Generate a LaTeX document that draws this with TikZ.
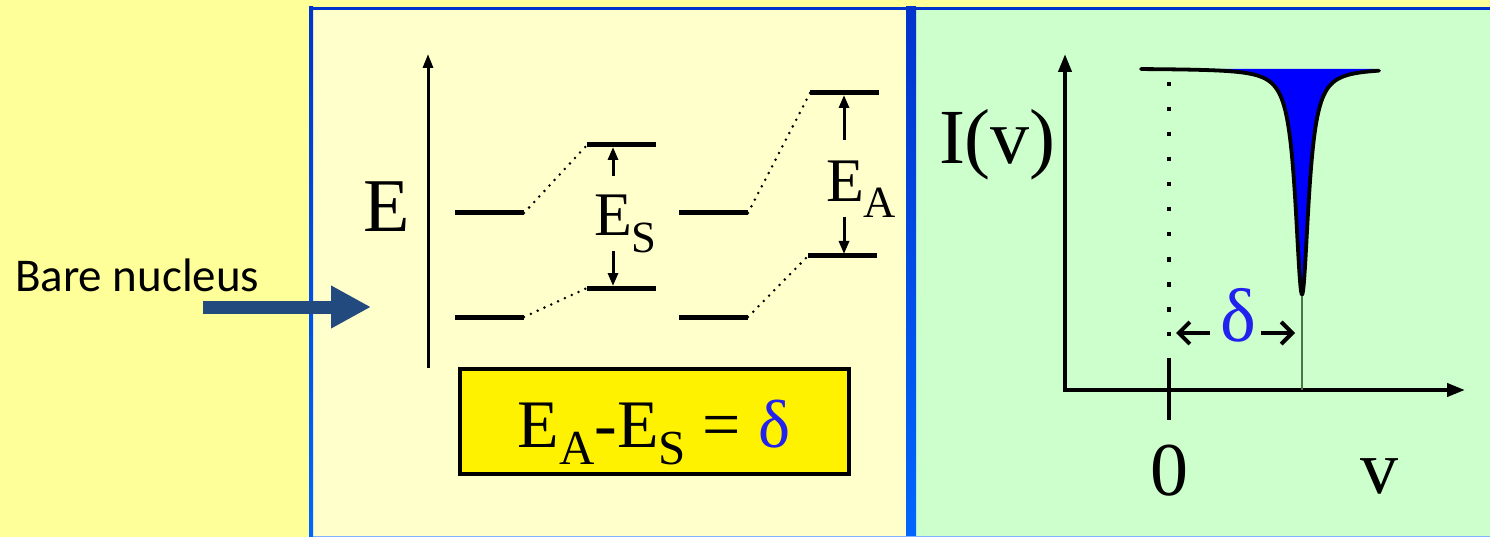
\documentclass[tikz,border=0pt]{standalone}
\usepackage{fontspec}
\usepackage{graphicx}
\setmainfont{Liberation Serif}
\newfontfamily\calib{Carlito}
\usetikzlibrary{arrows.meta}
\definecolor{bgyellow}{HTML}{FFFF99}
\definecolor{paneyellow}{HTML}{FFFFCC}
\definecolor{panegreen}{HTML}{CCFFCC}
\definecolor{bordertop}{HTML}{0033CC}
\definecolor{borderbot}{HTML}{0066FF}
\definecolor{navyarrow}{HTML}{234A7E}
\definecolor{deltablue}{HTML}{2222EE}
\newcommand\lsub[2]{\raisebox{-#1}{\scalebox{0.72}{#2}}}
\tikzset{
  level/.style={line width=5pt},
  link/.style={line width=2.8pt, line cap=round, dash pattern=on 0pt off 7.5pt},
  gap/.style={line width=3pt, -{Triangle[length=13pt,width=10pt]}},
  axis/.style={line width=4pt, -{Triangle[length=18pt,width=13pt]}},
  txt/.style={inner sep=0pt, outer sep=0pt, anchor=base west}
}
\begin{document}
\begin{tikzpicture}[x=1pt,y=-1pt]
\useasboundingbox (0,0) rectangle (1490,537);
% backgrounds
\fill[bgyellow] (0,0) rectangle (1490,537);
\fill[paneyellow] (309,7) rectangle (911,537);
\fill[panegreen] (911,7) rectangle (1490,537);
\fill[bordertop] (309,7) rectangle (1490,10.5);
\shade[top color=bordertop, bottom color=borderbot] (309,7) rectangle (313,537);
\shade[top color=bordertop, bottom color=borderbot] (906,7) rectangle (916,537);
\fill[borderbot!50] (313,535.5) rectangle (1490,537);
% bare nucleus
\node[txt] (bn) at (15,291) {\calib\fontsize{47}{50}\selectfont Bare nucleus};
\coordinate (ba) at (203,307);
\coordinate (bb) at (371,307);
\draw[navyarrow, line width=13pt, -{Triangle[length=40pt,width=40pt]}] (ba) -- (bb);
% energy axis
\coordinate (eb) at (428,368);
\coordinate (et) at (428,54);
\draw[line width=3pt, -{Triangle[length=14pt,width=10pt]}] (eb) -- (et);
\node[inner sep=0pt, anchor=base] (E) at (387,232) {\fontsize{76}{80}\selectfont E};
% levels
\coordinate (l1a) at (455,213); \coordinate (l1b) at (524,213);
\coordinate (l2a) at (455,317); \coordinate (l2b) at (524,317);
\coordinate (s1a) at (587,145); \coordinate (s1b) at (656,145);
\coordinate (s2a) at (587,288); \coordinate (s2b) at (656,288);
\coordinate (r1a) at (679,213); \coordinate (r1b) at (748,213);
\coordinate (r2a) at (679,317); \coordinate (r2b) at (748,317);
\coordinate (a1a) at (810,93); \coordinate (a1b) at (879,93);
\coordinate (a2a) at (808,256); \coordinate (a2b) at (877,256);
\foreach \p in {l1,l2,s1,s2,r1,r2,a1,a2} \draw[level] (\p a) -- (\p b);
\draw[link] (l1b) -- (s1a);
\draw[link] (l2b) -- (s2a);
\draw[link] (r1b) -- (a1a);
\draw[link] (r2b) -- (a2a);
% gap arrows
\coordinate (esu) at (613,176); \coordinate (esd) at (613,251);
\draw[gap] (esu) -- (613,147);
\draw[gap] (esd) -- (613,286);
\node[txt] (ES) at (594,236) {\fontsize{62}{66}\selectfont E\lsub{0.26em}{S}};
\coordinate (eau) at (844,140); \coordinate (ead) at (844,217);
\draw[gap] (eau) -- (844,95);
\draw[gap] (ead) -- (844,254);
\node[txt] (EA) at (826,202) {\fontsize{62}{66}\selectfont E\lsub{0.25em}{A}};
% formula box
\node[draw=black, line width=4pt, fill=yellow, minimum width=389pt, minimum height=105pt, inner sep=0pt] (box) at (654.5,421.5) {};
\node[inner sep=0pt, anchor=base] (formula) at (654,447) {\fontsize{68}{72}\selectfont E\lsub{0.25em}{A}-E\lsub{0.25em}{S} = \textcolor{deltablue}{δ}};
% spectrum panel
\coordinate (o) at (1065,390);
\coordinate (yt) at (1065,54);
\coordinate (xt) at (1465,390);
\draw[axis] (o) -- (yt);
\draw[axis] ([xshift=-2pt]o) -- (xt);
\coordinate (tk1) at (1169,358); \coordinate (tk2) at (1169,420);
\draw[line width=4pt] (tk1) -- (tk2);
\coordinate (d1) at (1169,82); \coordinate (d2) at (1169,336);
\draw[line width=4.5pt, dash pattern=on 4.5pt off 20.5pt] (d1) -- (d2);
% line profile
\fill[blue] (1200,69) -- plot[domain=-10.2:0, samples=250] ({1302+10*\x}, {69+226*0.64/(\x*\x+0.64)})
  -- plot[domain=0:7.3, samples=200] ({1302+10*\x}, {69+226*0.64/(\x*\x+0.64)}) -- (1375,69) -- cycle;
\draw[line width=3.8pt, line cap=round, line join=round] plot[domain=-16.1:0, samples=320] ({1302+10*\x}, {68.5+226*0.64/(\x*\x+0.64)})
  -- plot[domain=0:7.7, samples=200] ({1302+10*\x}, {68.5+226*0.64/(\x*\x+0.64) - 0.25*\x*\x/(\x*\x+4)});
\coordinate (dip) at (1302,296);
\coordinate (dipb) at (1302,390);
\draw[line width=1.2pt, black!60!green!40!gray] (dip) -- (dipb);
% delta arrows
\coordinate (dl) at (1210,333); \coordinate (dr) at (1261,333);
\draw[line width=4pt, -{Straight Barb[length=11pt,width=22pt]}] (dl) -- (1176,333);
\draw[line width=4pt, -{Straight Barb[length=11pt,width=22pt]}] (dr) -- (1295,333);
\node[inner sep=0pt, anchor=base] (delta) at (1238,341) {\fontsize{76}{80}\selectfont\textcolor{deltablue}{δ}};
\node[txt] (Iv) at (939,164) {\fontsize{78}{82}\selectfont I(v)};
\node[inner sep=0pt, anchor=base] (zero) at (1169,495) {\fontsize{76}{80}\selectfont 0};
\node[inner sep=0pt, anchor=base] (vlab) at (1379,493) {\fontsize{76}{80}\selectfont v};
\end{tikzpicture}
\end{document}
